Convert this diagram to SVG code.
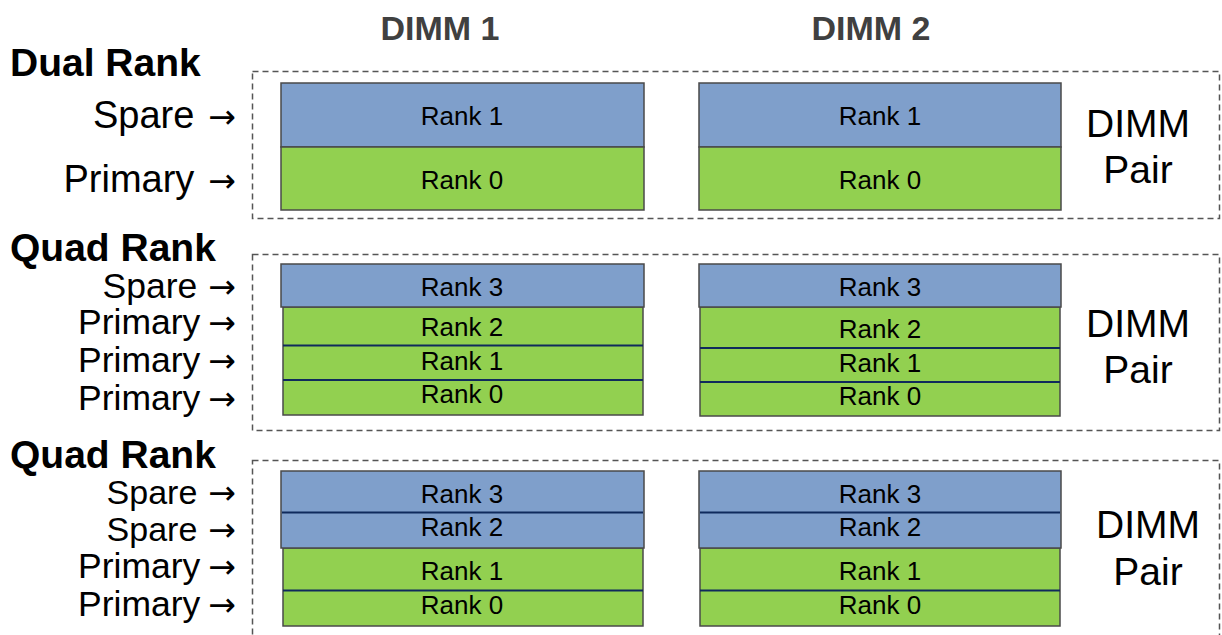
<svg xmlns="http://www.w3.org/2000/svg" width="1222" height="635" viewBox="0 0 1222 635">
  <style>
    text { font-family: "Liberation Sans", Arial, sans-serif; fill: #000; }
    .hdr { font-size: 34px; font-weight: bold; fill: #404040; text-anchor: middle; }
    .title { font-size: 39px; font-weight: bold; }
    .lbl1 { font-size: 38px; text-anchor: end; }
    .lbl { font-size: 35.5px; text-anchor: end; }
    .lbl.tight { font-size: 34px; }
    .arr { font-family: "DejaVu Sans", sans-serif; font-size: 33px; }
    .pair { font-size: 39px; text-anchor: middle; }
    .rk { font-size: 26px; text-anchor: middle; }
    .group { fill: none; stroke: #555; stroke-width: 1.5; stroke-dasharray: 6 4; }
    .spare { fill: #7F9FCB; stroke: #4a4a4a; stroke-width: 1.5; }
    .prim { fill: #92D050; stroke: #4a4a4a; stroke-width: 1.5; }
    .div { stroke: #0F2A5C; stroke-width: 1.8; }
  </style>

  <!-- column headers -->
  <g id="headers">
    <text class="hdr" x="440" y="40">DIMM 1</text>
    <text class="hdr" x="871" y="40">DIMM 2</text>
  </g>

  <!-- Dual rank: one spare, one primary -->
  <g id="dual-rank">
    <text class="title" x="10" y="76">Dual Rank</text>
    <text class="lbl1" x="236" y="128">Spare<tspan class="arr" dx="14">→</tspan></text>
    <text class="lbl1" x="236" y="192">Primary<tspan class="arr" dx="14">→</tspan></text>
    <rect class="group" x="252.5" y="71.5" width="967" height="147"/>
    <g id="dual-dimm1">
      <rect class="spare" x="281" y="83" width="363" height="64"/>
      <rect class="prim" x="281" y="147" width="363" height="63"/>
      <text class="rk" x="462" y="125">Rank 1</text>
      <text class="rk" x="462" y="189">Rank 0</text>
    </g>
    <g id="dual-dimm2">
      <rect class="spare" x="699" y="83" width="362" height="64"/>
      <rect class="prim" x="699" y="147" width="362" height="63"/>
      <text class="rk" x="880" y="125">Rank 1</text>
      <text class="rk" x="880" y="189">Rank 0</text>
    </g>
    <text class="pair" x="1138" y="137">DIMM</text>
    <text class="pair" x="1138" y="183">Pair</text>
  </g>

  <!-- Quad rank: one spare, three primary -->
  <g id="quad-rank-a">
    <text class="title" x="10" y="261">Quad Rank</text>
    <text class="lbl" x="236" y="298">Spare<tspan class="arr" dx="11">→</tspan></text>
    <text class="lbl" x="236" y="334">Primary<tspan class="arr" dx="8">→</tspan></text>
    <text class="lbl" x="236" y="372">Primary<tspan class="arr" dx="8">→</tspan></text>
    <text class="lbl" x="236" y="410">Primary<tspan class="arr" dx="8">→</tspan></text>
    <rect class="group" x="252.5" y="254.5" width="967" height="176"/>
    <g id="quad-a-dimm1">
      <rect class="prim" x="283" y="307" width="360" height="108"/>
      <line class="div" x1="283" y1="345.5" x2="643" y2="345.5"/>
      <line class="div" x1="283" y1="380" x2="643" y2="380"/>
      <rect class="spare" x="281" y="264" width="363" height="43"/>
      <text class="rk" x="462" y="296">Rank 3</text>
      <text class="rk" x="462" y="336">Rank 2</text>
      <text class="rk" x="462" y="370">Rank 1</text>
      <text class="rk" x="462" y="403">Rank 0</text>
    </g>
    <g id="quad-a-dimm2">
      <rect class="prim" x="700" y="307" width="360" height="109"/>
      <line class="div" x1="700" y1="348" x2="1060" y2="348"/>
      <line class="div" x1="700" y1="382" x2="1060" y2="382"/>
      <rect class="spare" x="699" y="264" width="362" height="43"/>
      <text class="rk" x="880" y="296">Rank 3</text>
      <text class="rk" x="880" y="338">Rank 2</text>
      <text class="rk" x="880" y="372">Rank 1</text>
      <text class="rk" x="880" y="405">Rank 0</text>
    </g>
    <text class="pair" x="1138" y="337">DIMM</text>
    <text class="pair" x="1138" y="383">Pair</text>
  </g>

  <!-- Quad rank: two spare, two primary -->
  <g id="quad-rank-b">
    <text class="title" x="10" y="468">Quad Rank</text>
    <text class="lbl tight" x="236" y="504">Spare<tspan class="arr" dx="11">→</tspan></text>
    <text class="lbl tight" x="236" y="541">Spare<tspan class="arr" dx="11">→</tspan></text>
    <text class="lbl" x="236" y="578">Primary<tspan class="arr" dx="8">→</tspan></text>
    <text class="lbl" x="236" y="616">Primary<tspan class="arr" dx="8">→</tspan></text>
    <rect class="group" x="252.5" y="460.5" width="967" height="190"/>
    <g id="quad-b-dimm1">
      <rect class="prim" x="283" y="548" width="360" height="78"/>
      <line class="div" x1="283" y1="590.5" x2="643" y2="590.5"/>
      <rect class="spare" x="281" y="471" width="363" height="77"/>
      <line class="div" x1="282" y1="512.5" x2="643" y2="512.5"/>
      <text class="rk" x="462" y="503">Rank 3</text>
      <text class="rk" x="462" y="536">Rank 2</text>
      <text class="rk" x="462" y="580">Rank 1</text>
      <text class="rk" x="462" y="614">Rank 0</text>
    </g>
    <g id="quad-b-dimm2">
      <rect class="prim" x="700" y="548" width="360" height="78"/>
      <line class="div" x1="700" y1="590.5" x2="1060" y2="590.5"/>
      <rect class="spare" x="699" y="471" width="362" height="77"/>
      <line class="div" x1="700" y1="512.5" x2="1060" y2="512.5"/>
      <text class="rk" x="880" y="503">Rank 3</text>
      <text class="rk" x="880" y="536">Rank 2</text>
      <text class="rk" x="880" y="580">Rank 1</text>
      <text class="rk" x="880" y="614">Rank 0</text>
    </g>
    <text class="pair" x="1148" y="538">DIMM</text>
    <text class="pair" x="1148" y="585">Pair</text>
  </g>
</svg>
